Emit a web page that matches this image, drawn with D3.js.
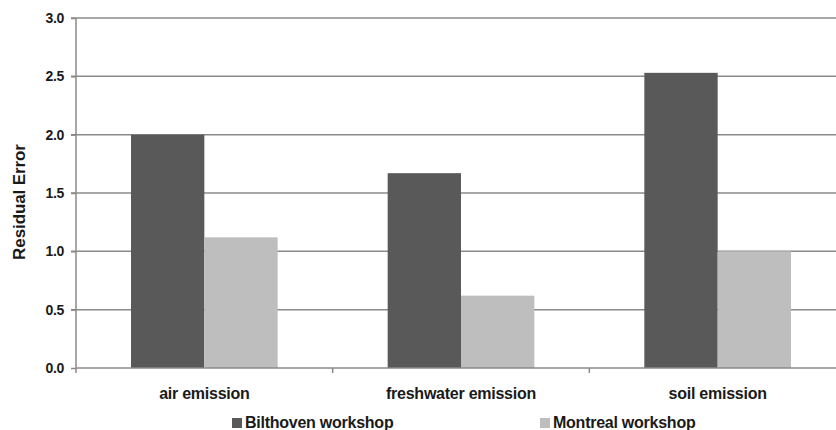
<!doctype html>
<html lang="en">
<head>
    <meta charset="utf-8">
    <title>Residual Error</title>
    <script src="https://cdnjs.cloudflare.com/ajax/libs/d3/7.8.5/d3.min.js"></script>
    <style>
        body { margin: 0; background: #fff; }
        svg { display: block; font-family: "Liberation Sans", Arial, sans-serif; }
        .grid line { stroke: #8a8a8a; stroke-width: 1.5; }
        .axis path, .axis line { stroke: #8a8a8a; stroke-width: 1.5; }
        .axis text { fill: #1a1a1a; font-weight: bold; }
    </style>
</head>
<body>
    <div id="chart"></div>
    <script>
        // data
        var categories = ["air emission", "freshwater emission", "soil emission"];
        var seriesNames = ["Bilthoven workshop", "Montreal workshop"];
        var bilthoven = [2.0, 1.67, 2.53];
        var montreal = [1.12, 0.62, 1.0];
        var yTicks = [0, 0.5, 1.0, 1.5, 2.0, 2.5, 3.0];

        var colors = ["#595959", "#bebebe"];

        var width = 836, height = 430;
        var margin = { top: 18, left: 76, bottom: 62 };
        var plotWidth = 770;   // runs past the right edge, as in the original crop
        var plotHeight = height - margin.top - margin.bottom;

        var svg = d3.select("#chart").append("svg")
            .attr("width", width)
            .attr("height", height);

        var g = svg.append("g")
            .attr("transform", "translate(" + margin.left + "," + margin.top + ")");

        var x = d3.scaleBand()
            .domain(categories)
            .range([0, plotWidth]);

        // two bars, gap of 1.5 bar widths
        var barWidth = x.bandwidth() / 3.5;
        var xSeries = d3.scaleBand()
            .domain(seriesNames)
            .range([0.75 * barWidth, x.bandwidth() - 0.75 * barWidth]);

        var y = d3.scaleLinear()
            .domain([0, 3])
            .range([plotHeight, 0]);

        // gridlines
        g.append("g")
            .attr("class", "grid")
            .selectAll("line")
            .data(yTicks.slice(1))
            .enter().append("line")
            .attr("x1", -5)
            .attr("x2", plotWidth)
            .attr("y1", function(d) { return y(d); })
            .attr("y2", function(d) { return y(d); });

        // bars
        var rows = categories.map(function(c, i) {
            return { cat: c, values: [bilthoven[i], montreal[i]] };
        });

        var groups = g.selectAll("g.cat")
            .data(rows)
            .enter().append("g")
            .attr("class", "cat")
            .attr("transform", function(d) { return "translate(" + x(d.cat) + ",0)"; });

        groups.selectAll("rect")
            .data(function(d) { return d.values; })
            .enter().append("rect")
            .attr("x", function(d, i) { return xSeries(seriesNames[i]); })
            .attr("width", xSeries.bandwidth())
            .attr("y", function(d) { return y(d); })
            .attr("height", function(d) { return plotHeight - y(d); })
            .attr("fill", function(d, i) { return colors[i]; });

        // y axis
        var yAxis = d3.axisLeft(y)
            .tickValues(yTicks)
            .tickFormat(d3.format(".1f"))
            .tickSize(5)
            .tickPadding(7);

        g.append("g")
            .attr("class", "axis y")
            .call(yAxis)
            .call(function(s) { s.select(".domain").attr("d", "M0," + plotHeight + "V0"); })
            .selectAll("text")
            .style("font-size", "14px")
            .style("letter-spacing", "-0.3px");

        // x axis
        var xAxis = d3.axisBottom(x)
            .tickSize(0)
            .tickPadding(20);

        var xg = g.append("g")
            .attr("class", "axis x")
            .attr("transform", "translate(0," + plotHeight + ")")
            .call(xAxis);
        xg.select(".domain").attr("d", "M0,0H" + plotWidth);
        xg.selectAll("text")
            .style("font-size", "16px")
            .style("letter-spacing", "-0.25px");

        // category boundary ticks
        xg.selectAll("line.sep")
            .data(categories)
            .enter().append("line")
            .attr("class", "sep")
            .attr("x1", function(d) { return x(d); })
            .attr("x2", function(d) { return x(d); })
            .attr("y1", 0)
            .attr("y2", 5);

        // y axis title
        svg.append("text")
            .attr("transform", "translate(25,202) rotate(-90)")
            .attr("text-anchor", "middle")
            .style("font-size", "17px")
            .style("font-weight", "bold")
            .style("letter-spacing", "-0.1px")
            .style("fill", "#1a1a1a")
            .text("Residual Error");

        // legend
        var legendX = [232, 540];
        var legend = svg.selectAll("g.legend")
            .data(seriesNames)
            .enter().append("g")
            .attr("class", "legend")
            .attr("transform", function(d, i) { return "translate(" + legendX[i] + ",418)"; });

        legend.append("rect")
            .attr("width", 10)
            .attr("height", 10)
            .attr("fill", function(d, i) { return colors[i]; });

        legend.append("text")
            .attr("x", 13)
            .attr("y", 10)
            .style("font-size", "16px")
            .style("font-weight", "bold")
            .style("letter-spacing", "-0.25px")
            .style("fill", "#1a1a1a")
            .text(function(d) { return d; });
    </script>
</body>
</html>
